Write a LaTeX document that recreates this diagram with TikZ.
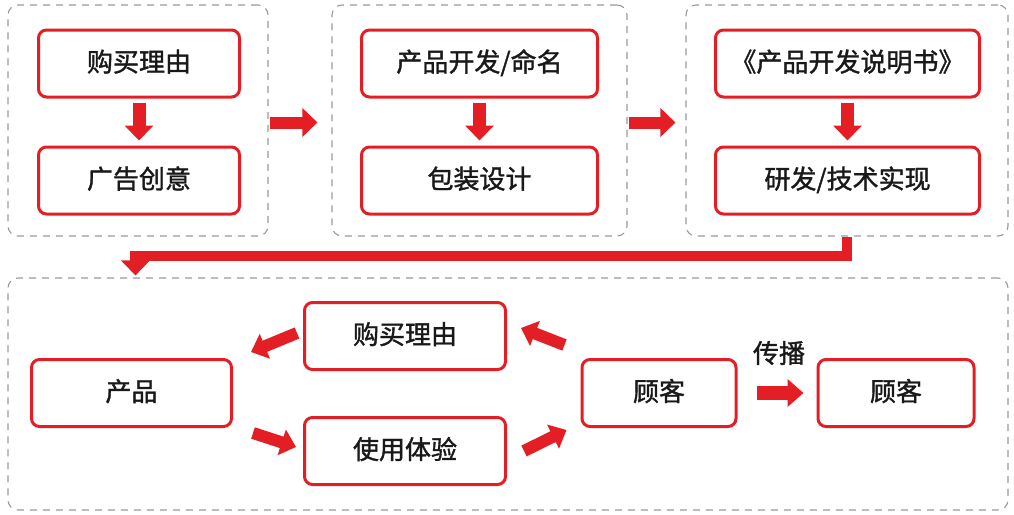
\documentclass[tikz,border=0pt]{standalone}
\usepackage{fontspec}
\setmainfont{Noto Sans CJK SC}[FakeBold=1.4]
\usetikzlibrary{arrows.meta,calc}
\definecolor{myred}{HTML}{E31E24}
\definecolor{mygray}{HTML}{9A9A9A}
\begin{document}
\begin{tikzpicture}[x=1pt,y=-1pt,
  redbox/.style={draw=myred,line width=3pt,rounded corners=8pt,minimum height=67pt,inner sep=0pt,text height=22pt,text depth=6pt,font=\fontsize{26}{30}\selectfont,text=black!90},
  grpbox/.style={draw=mygray,line width=1.1pt,dash pattern=on 7pt off 6pt,rounded corners=10pt,inner sep=0pt},
  bigarrow/.style={draw=myred,line width=13pt,-{Triangle[length=15pt,width=28pt]}},
  lbl/.style={font=\fontsize{26}{30}\selectfont,text=black!90,inner sep=0pt}]
\useasboundingbox (0,0) rectangle (1014,514);
% groups
\node[grpbox,minimum width=260pt,minimum height=231pt] (g1) at (138,120.5) {};
\node[grpbox,minimum width=295pt,minimum height=231pt] (g2) at (479.5,120.5) {};
\node[grpbox,minimum width=322pt,minimum height=231pt] (g3) at (847,120.5) {};
\node[grpbox,minimum width=1000pt,minimum height=232pt] (g4) at (508,394) {};
% top boxes
\node[redbox,minimum width=201pt] (t1) at (139,63.5) {购买理由};
\node[redbox,minimum width=201pt] (t2) at (139,180.5) {广告创意};
\node[redbox,minimum width=236pt] (t3) at (479.5,63.5) {产品开发/命名};
\node[redbox,minimum width=236pt] (t4) at (479.5,180.5) {包装设计};
\node[redbox,minimum width=264pt] (t5) at (847.5,63.5) {《产品开发说明书》};
\node[redbox,minimum width=264pt] (t6) at (847.5,180.5) {研发/技术实现};
% bottom boxes
\node[redbox,minimum width=200pt] (p) at (131.5,393) {产品};
\node[redbox,minimum width=201pt] (b) at (405,336) {购买理由};
\node[redbox,minimum width=201pt] (u) at (405,451) {使用体验};
\node[redbox,minimum width=154pt] (c1) at (659,393) {顾客};
\node[redbox,minimum width=156pt] (c2) at (896,393) {顾客};
\node[lbl] (lab) at (779,353) {传播};
% vertical arrows
\draw[bigarrow,shorten <=4pt,shorten >=5pt] (t1.south) -- (t2.north);
\draw[bigarrow,shorten <=4pt,shorten >=5pt] (t3.south) -- (t4.north);
\draw[bigarrow,shorten <=4pt,shorten >=5pt] (t5.south) -- (t6.north);
% group arrows
\draw[bigarrow,line width=12pt,shorten <=1pt,shorten >=14pt] ($(g1.east)+(0,2)$) -- ($(g2.west)+(0,2)$);
\draw[bigarrow,line width=12pt,shorten <=1pt,shorten >=10pt] ($(g2.east)+(0,2)$) -- ($(g3.west)+(0,2)$);
% long connector
\coordinate (cend) at ($(g4.north west)+(128,-2)$);
\draw[draw=myred,line width=10pt,miter limit=10,-{Triangle[length=15pt,width=28pt]}] (g3.south) -- ($(g3.south)+(0,19)$) -| (cend);
% diagonal arrows
\draw[bigarrow,line width=12pt,-{Triangle[length=15pt,width=26pt]}] ($(b.west)+(-6,-3)$) -- ($(p.north east)+(18,-6)$);
\draw[bigarrow,line width=12pt,-{Triangle[length=15pt,width=26pt]}] ($(p.south east)+(20,5)$) -- ($(u.west)+(-7,-4)$);
\draw[bigarrow,line width=12pt,-{Triangle[length=15pt,width=26pt]}] ($(c1.north west)+(-16,-13)$) -- ($(b.east)+(14,-8)$);
\draw[bigarrow,line width=12pt,-{Triangle[length=15pt,width=26pt]}] ($(u.east)+(17,0)$) -- ($(c1.south west)+(-14,2)$);
% spread arrow
\draw[bigarrow,line width=14pt,-{Triangle[length=16pt,width=27pt]},shorten <=19pt,shorten >=13pt] (c1.east) -- (c2.west);
\end{tikzpicture}
\end{document}
